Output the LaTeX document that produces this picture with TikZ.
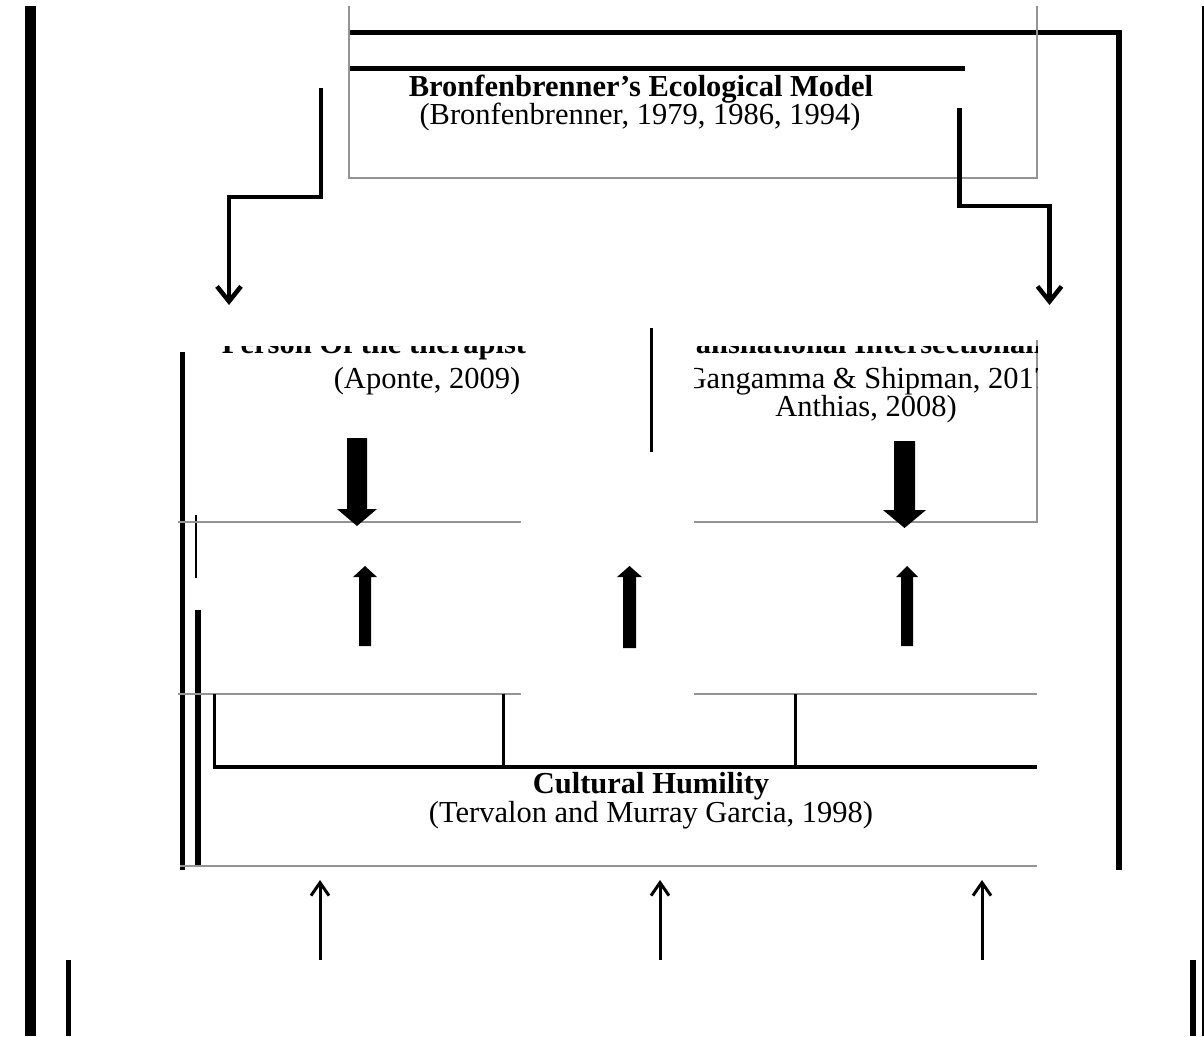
\documentclass[tikz,border=0pt]{standalone}
\usepackage{fontspec}
\setmainfont{Liberation Serif}
\usetikzlibrary{arrows.meta}

% filled block arrow: centre x, tail y, head-base y, tip y, half shaft width, half head width
\newcommand\blockarrow[6]{%
  \fill (#1-#5,#2) -- (#1+#5,#2) -- (#1+#5,#3) -- (#1+#6,#3) -- (#1,#4)
        -- (#1-#6,#3) -- (#1-#5,#3) -- cycle;}

\begin{document}
\begin{tikzpicture}[x=1pt,y=-1pt,
  bar/.style={line width=#1, line cap=butt, line join=miter},
  hair/.style={draw=black!42, line width=1.2pt},
  elbow/.style={line width=4.5pt, line join=miter,
                -{Straight Barb[length=15pt,width=24pt]}},
  thinarrow/.style={line width=3pt, -{Straight Barb[length=13pt,width=18pt]}},
  txt/.style={font=\fontsize{30.5}{34}\selectfont, inner sep=0pt, anchor=base},
  boldtxt/.style={txt, font=\fontsize{30.5}{34}\selectfont\bfseries}]

\useasboundingbox[fill=white] (0,0) rectangle (1204,1036);

% outer frame pieces
\draw[bar=11pt] (30.5,6) -- (30.5,1036);
\draw[bar=2pt] (1203,6) -- (1203,1036);
\draw[bar=5.5pt] (349,32.5) -- (1119,32.5) -- (1119,870);
\draw[bar=5pt] (349,68.5) -- (965,68.5);
\draw[bar=5pt] (68,960) -- (68,1036);
\draw[bar=6pt] (1193,960) -- (1193,1036);

% top box
\draw[hair] (349,6) -- (349,178) -- (1037,178) -- (1037,6);
\node[boldtxt] (eco) at (641,96) {Bronfenbrenner’s Ecological Model};
\node[txt] (ecoref) at (640,124) {(Bronfenbrenner, 1979, 1986, 1994)};

% elbow connectors from the model to the two boxes
\coordinate (lA) at (321,88);
\coordinate (lB) at (229,305);
\coordinate (rA) at (959.5,108);
\coordinate (rB) at (1049.5,305);
\draw[elbow] (lA) -- ++(0,109) -| (lB);
\draw[elbow] (rA) -- ++(0,98) -| (rB);

% side rules
\draw[bar=5pt] (182.5,352) -- (182.5,870);
\draw[bar=2.5pt] (196,515) -- (196,578);
\draw[bar=6pt] (198,610) -- (198,866);
\draw[bar=3pt] (651,328) -- (651,452);

% box outlines
\draw[hair] (178,522) -- (521,522);
\draw[hair] (694,522) -- (1037,522) -- (1037,340);
\draw[hair] (178,694) -- (521,694);
\draw[hair] (694,694) -- (1037,694);
\draw[hair] (180,866) -- (1037,866);

% left box text
\begin{scope}
  \clip (178,346) rectangle (560,522);
  \node[boldtxt] (pott) at (374,353) {Person Of the therapist};
\end{scope}
\node[txt] (apo) at (427,388) {(Aponte, 2009)};

% right box text
\begin{scope}
  \clip (694,346) rectangle (1037,522);
  \node[boldtxt] (trans) at (866,353) {Transnational Intersectionality};
  \node[txt] (gang) at (866,388) {(Gangamma \& Shipman, 2017;};
\end{scope}
\node[txt] (anth) at (866,416) {Anthias, 2008)};

% block arrows
\blockarrow{357}{438}{509}{526}{10}{20}
\blockarrow{904.5}{441}{510}{528}{10.5}{21.5}
\blockarrow{365}{646}{577}{566}{6}{12}
\blockarrow{629.5}{648}{577}{566}{6.5}{12.5}
\blockarrow{907}{646}{577}{566}{6}{11}

% bracket above cultural humility
\draw[bar=3pt] (214,694) -- (214,767);
\draw[bar=3pt] (503,694) -- (503,767);
\draw[bar=3pt] (795,694) -- (795,767);
\draw[bar=4pt] (212.5,767) -- (1037,767);

\node[boldtxt] (hum) at (651,793) {Cultural Humility};
\node[txt] (humref) at (651,822) {(Tervalon and Murray Garcia, 1998)};

% arrows rising into the bottom box
\foreach \n/\x in {1/320,2/660,3/982}{
  \coordinate (s\n) at (\x,960);
  \coordinate (t\n) at (\x,880);
  \draw[thinarrow] (s\n) -- (t\n);
}
\end{tikzpicture}
\end{document}
